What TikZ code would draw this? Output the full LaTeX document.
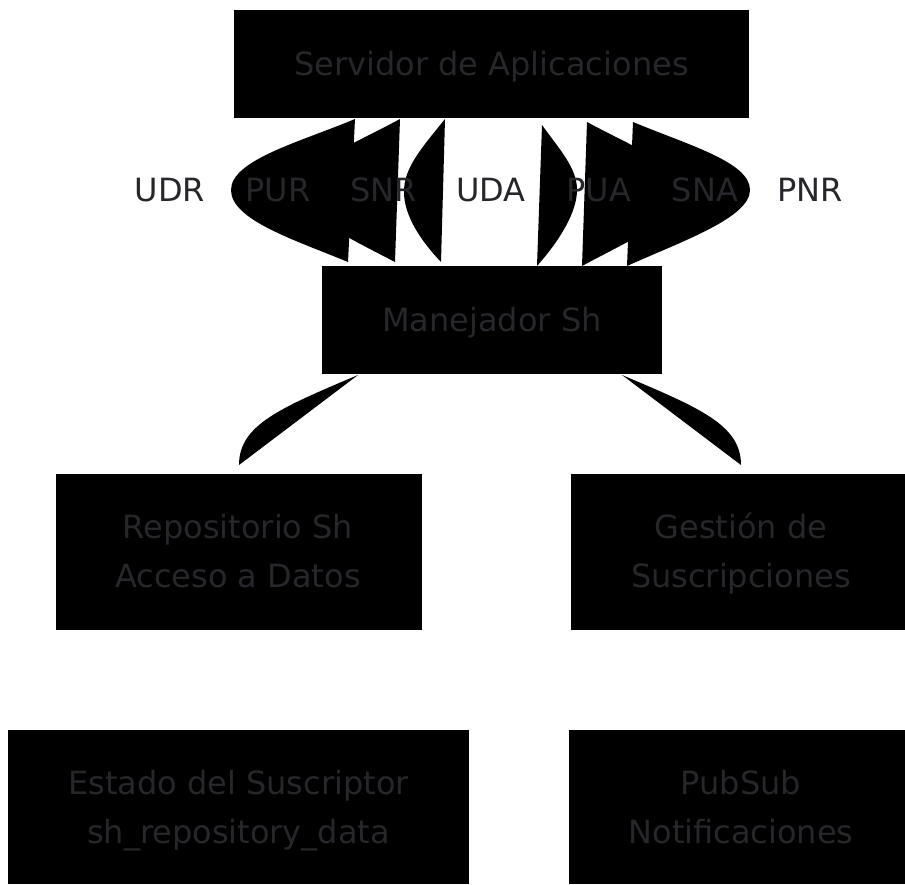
\documentclass[tikz,border=0pt]{standalone}
\usepackage{fontspec}
\setmainfont{DejaVu Sans}
\definecolor{txt}{HTML}{26262B}
\begin{document}
\begin{tikzpicture}[x=1pt,y=-1pt,
  box/.style={rectangle, fill=black, inner sep=0pt},
  btxt/.style={inner sep=0pt, anchor=base, text=txt, font=\fontsize{32}{49}\selectfont},
  lbl/.style={inner sep=0pt, text=txt, font=\fontsize{32}{49}\selectfont},
  lens/.style={fill=black}]
\useasboundingbox (0,0) rectangle (905,884);
% boxes
\node[box, minimum width=515pt, minimum height=108pt] (srv) at (491.5,64) {};
\node[box, minimum width=340pt, minimum height=108pt] (man) at (492,320) {};
\node[box, minimum width=366pt, minimum height=156pt] (rep) at (239,552) {};
\node[box, minimum width=334pt, minimum height=156pt] (ges) at (738,552) {};
\node[box, minimum width=461pt, minimum height=154pt] (est) at (238.5,807) {};
\node[box, minimum width=336pt, minimum height=154pt] (pub) at (737,807) {};
% box texts (baselines)
\node[btxt] (srvA) at (491.5,75.6) {Servidor de Aplicaciones};
\node[btxt] (manA) at (492,331.6) {Manejador Sh};
\node[btxt] (repA) at (238,538.6) {Repositorio Sh};
\node[btxt] (repB) at (238,587.6) {Acceso a Datos};
\node[btxt] (gesA) at (741,538.6) {Gestión de};
\node[btxt] (gesB) at (741,587.6) {Suscripciones};
\node[btxt] (estA) at (238.5,794.1) {Estado del Suscriptor};
\node[btxt] (estB) at (238.5,843.1) {sh\_repository\_data};
\node[btxt] (pubA) at (741,794.1) {PubSub};
\node[btxt] (pubB) at (741,843.1) {Notificaciones};
% filled edge shapes between srv and man
\fill[lens] (355,119) .. controls (300,142) and (231,160) .. (231,190)
            .. controls (231,220) and (295,240) .. (348,262) -- cycle;
\fill[lens] (400,119) .. controls (350,146) and (300,165) .. (300,190)
            .. controls (300,215) and (345,236) .. (395,262) -- cycle;
\fill[lens] (445,119) .. controls (420,150) and (404,168) .. (404,192)
            .. controls (404,215) and (420,240) .. (441,262) -- cycle;
\fill[lens] (542,125) .. controls (560,150) and (577,168) .. (577,190)
            .. controls (577,212) and (560,240) .. (537,266) -- cycle;
\fill[lens] (587,122) .. controls (635,148) and (682,165) .. (682,192)
            .. controls (682,218) and (630,240) .. (582,266) -- cycle;
\fill[lens] (633,122) .. controls (688,145) and (750,162) .. (750,190)
            .. controls (750,218) and (680,242) .. (627,266) -- cycle;
% filled edge shapes below man
\fill[lens] (358,375) .. controls (280,408) and (239,425) .. (239,465) -- cycle;
\fill[lens] (622,375) .. controls (700,408) and (741,425) .. (741,465) -- cycle;
% labels
\node[lbl] (udr) at (170,190) {UDR};
\node[lbl] (pur) at (278,190) {PUR};
\node[lbl] (snr) at (383.5,190) {SNR};
\node[lbl] (uda) at (491,190) {UDA};
\node[lbl] (pua) at (599,190) {PUA};
\node[lbl] (sna) at (705,190) {SNA};
\node[lbl] (pnr) at (810,190) {PNR};
\end{tikzpicture}
\end{document}
